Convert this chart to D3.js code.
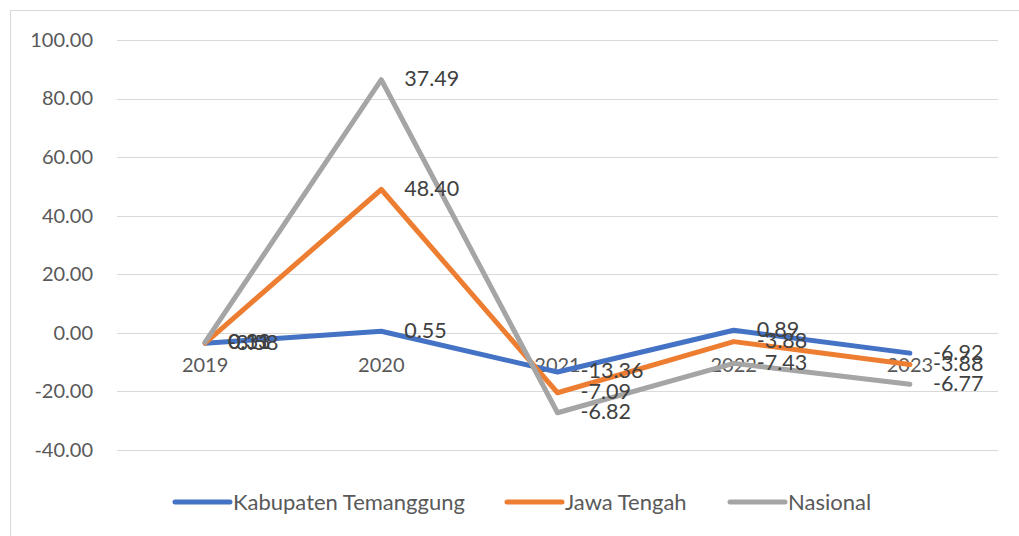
<!DOCTYPE html>
<html><head><meta charset="utf-8">
<script src="https://cdn.jsdelivr.net/npm/d3@7"></script>
<style>body{margin:0;background:#fff}svg{display:block}text{font-family:Lato,"Open Sans",sans-serif}</style>
</head><body><svg id="c" width="1019" height="536"></svg>
<script>
const categories = ["2019","2020","2021","2022","2023"];
const seriesNames = ["Kabupaten Temanggung","Jawa Tengah","Nasional"];
const kabupaten = [-3.58, 0.55, -13.36, 0.89, -6.92];
const jawaTengah = [0.11, 48.40, -7.09, -3.88, -3.88];
const nasional = [0.33, 37.49, -6.82, -7.43, -6.77];
const yTicks = [-40,-20,0,20,40,60,80,100];
const colors = ["#4472C4","#ED7D31","#A5A5A5"];

const fmt = v => d3.format(".2f")(v).replace("\u2212","-");
const svg = d3.select("#c");
svg.append("rect").attr("x",10.5).attr("y",10.5).attr("width",1030).attr("height",540).attr("fill","none").attr("stroke","#d9d9d9");

const x = d3.scaleBand().domain(categories).range([117,998]);
const y = d3.scaleLinear().domain([-40,100]).range([450,40]);

svg.append("g").selectAll("line").data(yTicks).join("line")
  .attr("x1",117).attr("x2",998).attr("y1",d=>Math.round(y(d))+0.5).attr("y2",d=>Math.round(y(d))+0.5)
  .attr("stroke","#d9d9d9").attr("stroke-width",1);

const yAxis = d3.axisLeft(y).tickValues(yTicks).tickFormat(fmt).tickSize(0).tickPadding(0);
const ga = svg.append("g").attr("transform","translate(93,0)").call(yAxis);
ga.select(".domain").remove();
ga.selectAll("text").attr("font-size",20).attr("fill","#595959").attr("font-family","Lato, sans-serif");

const xAxis = d3.axisBottom(x).tickSize(0).tickPadding(0);
const gx = svg.append("g").attr("transform",`translate(0,${y(0)+32})`).call(xAxis);
gx.select(".domain").remove();
gx.selectAll("text").attr("font-size",20).attr("fill","#595959").attr("font-family","Lato, sans-serif").attr("dy","0.35em").attr("y",0);

const raw = [kabupaten, jawaTengah, nasional];
const stacked = [];
raw.forEach((s,i)=>{
  stacked.push(s.map((v,j)=> v + (i>0 ? stacked[i-1][j] : 0)));
});
const cx = c => x(c) + x.bandwidth()/2;
const line = d3.line().x((d,j)=>cx(categories[j])).y(d=>y(d));
stacked.forEach((s,i)=>{
  svg.append("path").datum(s).attr("d",line).attr("fill","none")
    .attr("stroke",colors[i]).attr("stroke-width",5).attr("stroke-linejoin","round").attr("stroke-linecap","round");
});
stacked.forEach((s,i)=>{
  svg.append("g").selectAll("text").data(s).join("text")
    .attr("x",(d,j)=>cx(categories[j])+23).attr("y",d=>y(d)).attr("dy","0.3em")
    .attr("font-size",21.5).attr("fill","#404040")
    .text((d,j)=>fmt(raw[i][j]));
});

const legX = [175, 507, 730];
seriesNames.forEach((n,i)=>{
  const g = svg.append("g");
  g.append("line").attr("x1",legX[i]).attr("x2",legX[i]+55).attr("y1",502).attr("y2",502)
    .attr("stroke",colors[i]).attr("stroke-width",5).attr("stroke-linecap","round");
  g.append("text").attr("x",legX[i]+58).attr("y",502).attr("dy","0.35em").attr("font-size",22).attr("fill","#595959").text(n);
});
</script></body></html>
